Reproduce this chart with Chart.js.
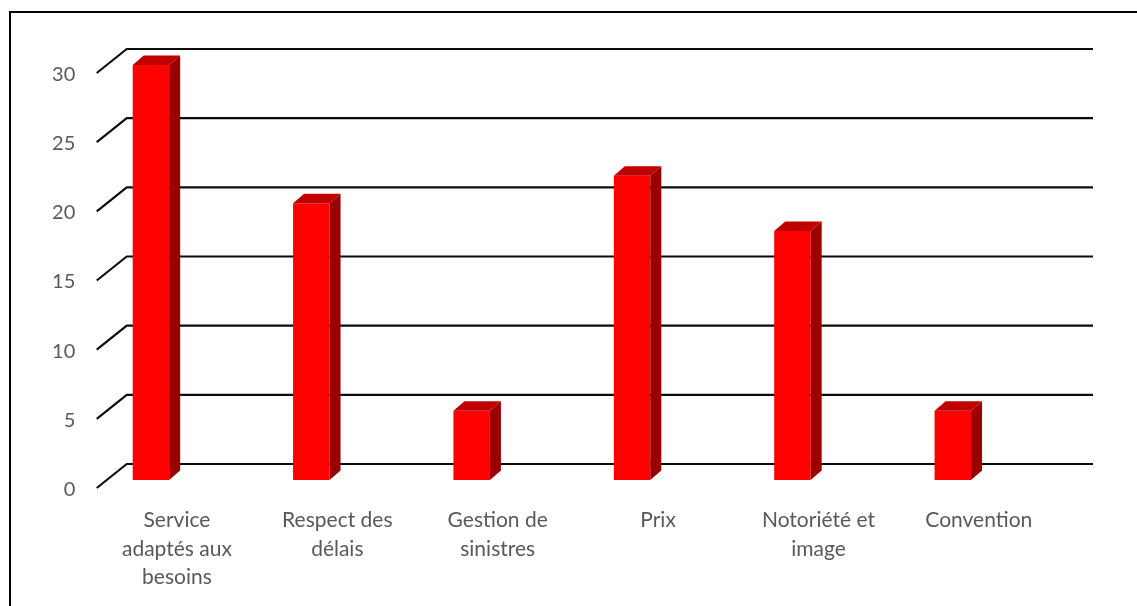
<!DOCTYPE html>
<html>
<head>
<meta charset="utf-8">
<script src="https://cdn.jsdelivr.net/npm/chart.js@4"></script>
<style>
  html, body { margin: 0; background: #fff; }
</style>
</head>
<body>
<canvas id="chart" width="1137" height="606"></canvas>
<script>
const categories = [
  ["Service", "adaptés aux", "besoins"],
  ["Respect des", "délais"],
  ["Gestion de", "sinistres"],
  "Prix",
  ["Notoriété et", "image"],
  "Convention"
];
const values = [30, 20, 5, 22, 18, 5];
const yMin = 0, yMax = 30, yStep = 5;

const TEXT_COLOR = '#595959';
const FONT = 'Lato';

// fake 3D: back wall and front edge offsets relative to the bar faces
const WALL = { dx: 56, dy: -16 };
const FRONT = { dx: 26, dy: 8 };
const BAR_DEPTH = { dx: 11, dy: -9.5 };

const depth3d = {
  id: 'depth3d',
  beforeDraw(chart) {
    const ctx = chart.ctx;
    ctx.save();
    ctx.strokeStyle = '#000';
    ctx.lineWidth = 2;
    ctx.strokeRect(10, 12, 1300, 800);
    ctx.restore();
  },
  beforeDatasetsDraw(chart) {
    const { ctx, chartArea, scales: { y } } = chart;
    ctx.save();
    ctx.strokeStyle = '#0d0d0d';
    ctx.lineWidth = 2.2;
    y.ticks.forEach(t => {
      const py = y.getPixelForValue(t.value);
      ctx.beginPath();
      ctx.moveTo(chartArea.left + FRONT.dx, py + FRONT.dy);
      ctx.lineTo(chartArea.left + WALL.dx, py + WALL.dy);
      ctx.lineTo(chartArea.right + 60, py + WALL.dy);
      ctx.stroke();
    });
    // value labels sit at the front edge of each tick
    ctx.fillStyle = TEXT_COLOR;
    ctx.font = '20px ' + FONT;
    ctx.textAlign = 'right';
    ctx.textBaseline = 'middle';
    y.ticks.forEach(t => {
      const py = y.getPixelForValue(t.value);
      ctx.fillText(String(t.value), chartArea.left + 4.5, py + 9.5);
    });
    ctx.restore();
  },
  afterDatasetsDraw(chart) {
    const ctx = chart.ctx;
    const meta = chart.getDatasetMeta(0);
    ctx.save();
    meta.data.forEach(bar => {
      const { x, y, base, width } = bar.getProps(['x', 'y', 'base', 'width'], true);
      const l = x - width / 2, r = x + width / 2;
      // side face
      ctx.fillStyle = '#9a0000';
      ctx.beginPath();
      ctx.moveTo(r, y);
      ctx.lineTo(r + BAR_DEPTH.dx, y + BAR_DEPTH.dy);
      ctx.lineTo(r + BAR_DEPTH.dx, base + BAR_DEPTH.dy);
      ctx.lineTo(r, base);
      ctx.closePath();
      ctx.fill();
      // top face
      ctx.fillStyle = '#c00000';
      ctx.beginPath();
      ctx.moveTo(l, y);
      ctx.lineTo(l + BAR_DEPTH.dx, y + BAR_DEPTH.dy);
      ctx.lineTo(r + BAR_DEPTH.dx, y + BAR_DEPTH.dy);
      ctx.lineTo(r, y);
      ctx.closePath();
      ctx.fill();
    });
    ctx.restore();
  }
};

const ctx = document.getElementById('chart').getContext('2d');
new Chart(ctx, {
  type: 'bar',
  data: {
    labels: categories,
    datasets: [{
      data: values,
      backgroundColor: '#ff0000',
      borderWidth: 0,
      barPercentage: 0.2275,
      categoryPercentage: 1
    }]
  },
  options: {
    responsive: false,
    animation: false,
    layout: { padding: { top: 65, right: 104, left: 0, bottom: 0 } },
    plugins: {
      legend: { display: false },
      tooltip: { enabled: false }
    },
    scales: {
      x: {
        grid: { display: false, drawTicks: false },
        border: { display: false },
        afterFit(scale) { scale.height = 126; },
        ticks: {
          color: TEXT_COLOR,
          font: { family: FONT, size: 21, lineHeight: 1.36 },
          padding: 26,
          labelOffset: 26,
          maxRotation: 0,
          autoSkip: false
        }
      },
      y: {
        min: yMin,
        max: yMax,
        grid: { display: false, drawTicks: false },
        border: { display: false },
        afterFit(scale) { scale.width = 70.75; },
        ticks: { stepSize: yStep, display: false }
      }
    }
  },
  plugins: [depth3d]
});
</script>
</body>
</html>
